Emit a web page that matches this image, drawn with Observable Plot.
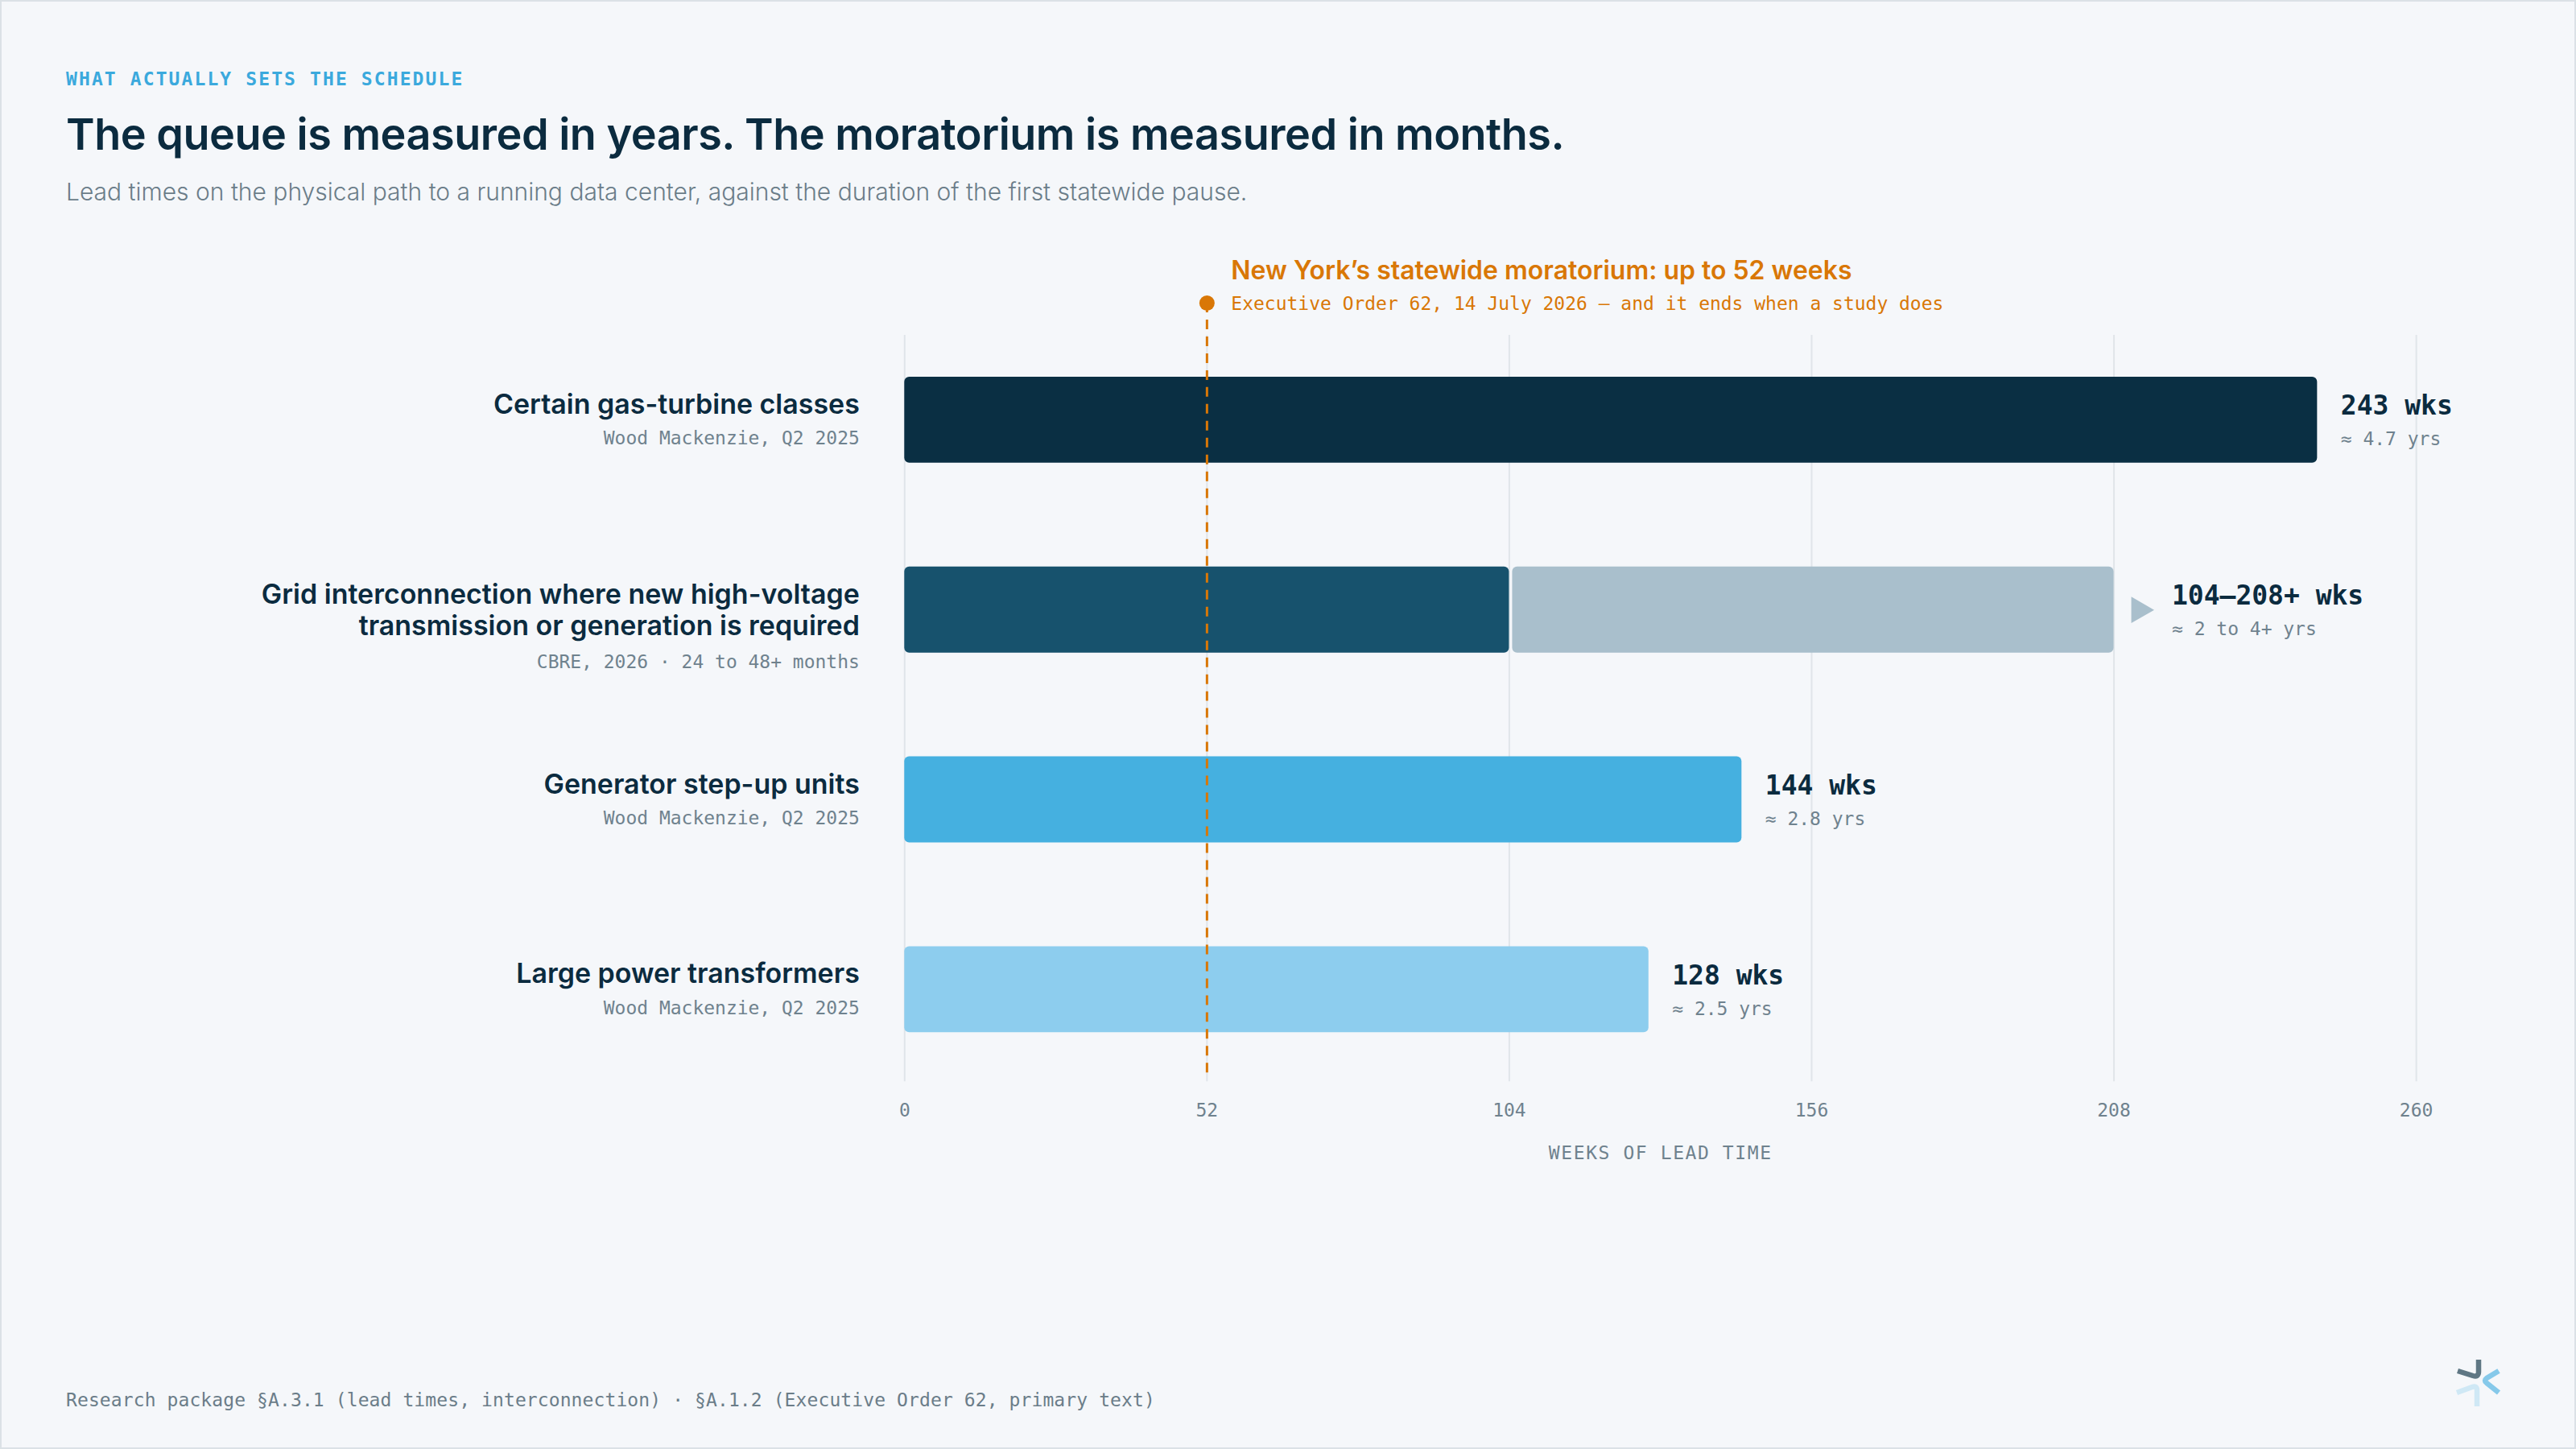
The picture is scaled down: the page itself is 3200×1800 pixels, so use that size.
<!DOCTYPE html>
<html>
<head>
<meta charset="utf-8">
<script src="https://cdn.jsdelivr.net/npm/d3@7"></script>
<script src="https://cdn.jsdelivr.net/npm/@observablehq/plot@0.6"></script>
<style>
  html, body { margin: 0; padding: 0; background: #f5f7fa; }
  #page { position: relative; width: 3200px; height: 1800px; box-sizing: border-box; border: 2px solid #dbe1e6; background: #f5f7fa; overflow: hidden; }
  .abs { position: absolute; margin: 0; white-space: nowrap; }
  .eyebrow { left: 80px; top: 85px; font: 700 23px/23px "DejaVu Sans Mono", monospace; letter-spacing: 2.1px; color: #3ba9dd; }
  h1.abs { left: 80px; top: 138px; font: 600 54px/54px Inter, sans-serif; color: #0b2b3f; letter-spacing: -0.5px; }
  .sub { left: 80px; top: 221px; font: 300 30px/30px Inter, sans-serif; color: #6b7d89; }
  .foot { left: 80px; top: 1726px; font: 400 23px/23px "DejaVu Sans Mono", monospace; letter-spacing: 0.1px; color: #6b7d89; }
  #chart { position: absolute; left: -2px; top: 278px; }
  .logo { position: absolute; left: 3038px; top: 1678px; }
</style>
</head>
<body>
<div id="page">
  <div class="abs eyebrow">WHAT ACTUALLY SETS THE SCHEDULE</div>
  <h1 class="abs">The queue is measured in years. The moratorium is measured in months.</h1>
  <p class="abs sub">Lead times on the physical path to a running data center, against the duration of the first statewide pause.</p>
  <div id="chart"></div>
  <div class="abs foot">Research package §A.3.1 (lead times, interconnection) · §A.1.2 (Executive Order 62, primary text)</div>
  <svg class="logo" width="80" height="80" viewBox="0 0 80 80" fill="none" stroke-width="6.5" stroke-linecap="butt" stroke-linejoin="round">
    <path d="M39,9 L39,24 Q39,31 32,29 L13,23" stroke="#5f7784"/>
    <path d="M64,23 L49,32 Q45,35 49,38 L64,50" stroke="#86c9ea"/>
    <path d="M12,50 L31,43 Q37,41 37,47 L37,67" stroke="#cfe8f5"/>
  </svg>
</div>
<script>
// ---- data ----
const categories = [
  "Certain gas-turbine classes",
  "Grid interconnection where new high-voltage\ntransmission or generation is required",
  "Generator step-up units",
  "Large power transformers"
];
const sources = [
  "Wood Mackenzie, Q2 2025",
  "CBRE, 2026 · 24 to 48+ months",
  "Wood Mackenzie, Q2 2025",
  "Wood Mackenzie, Q2 2025"
];
const leadWeeksLow = [243, 104, 144, 128];
const leadWeeksHigh = [243, 208, 144, 128];
const valueLabels = ["243 wks", "104–208+ wks", "144 wks", "128 wks"];
const yearLabels = ["≈ 4.7 yrs", "≈ 2 to 4+ yrs", "≈ 2.8 yrs", "≈ 2.5 yrs"];
const xTicks = [0, 52, 104, 156, 208, 260];
const moratoriumWeeks = 52;
const moratoriumTitle = "New York’s statewide moratorium: up to 52 weeks";
const moratoriumNote = "Executive Order 62, 14 July 2026 — and it ends when a study does";
const axisLabel = "WEEKS OF LEAD TIME";
const extensionKey = "upper range";

// ---- styling ----
const MONO = "DejaVu Sans Mono, monospace";
const SANS = "Inter, sans-serif";
const DARK = "#0b2b3f";
const GRAY = "#6f828e";
const ORANGE = "#d97706";
const barPalette = ["#0a2f43", "#17526d", "#45b0e0", "#8dcdee", "#a9bfcc"];

const rows = categories.map((c, i) => ({
  category: c,
  source: sources[i],
  low: leadWeeksLow[i],
  high: leadWeeksHigh[i],
  value: valueLabels[i],
  years: yearLabels[i],
  lines: c.split("\n").length,
  ranged: leadWeeksHigh[i] > leadWeeksLow[i]
}));
const single = rows.filter(d => !d.ranged);
const ranged = rows.filter(d => d.ranged);

const chart = Plot.plot({
  width: 3200,
  height: 1202,
  marginLeft: 1124,
  marginRight: 197,
  marginTop: 136,
  marginBottom: 138,
  style: { background: "transparent", fontFamily: MONO, fontSize: "23px", color: GRAY },
  x: { domain: [0, 260] },
  y: { type: "band", domain: categories, axis: null, paddingInner: 0.5466, paddingOuter: 0.2203, insetBottom: 9 },
  color: { type: "ordinal", domain: [...categories, extensionKey], range: barPalette },
  marks: [
    Plot.gridX(xTicks, { stroke: "#e0e5ea", strokeOpacity: 1, strokeWidth: 2 }),
    Plot.axisX(xTicks, { tickSize: 0, tickPadding: 27, fontSize: 23, fontFamily: MONO, fill: GRAY, label: null }),
    Plot.barX(rows, { x: "low", y: "category", fill: "category", rx: 6 }),
    Plot.barX(ranged, { x1: "low", x2: "high", y: "category", fill: () => extensionKey, insetLeft: 4, rx: 6 }),
    Plot.dot(ranged, { x: "high", y: "category", symbol: "triangle", rotate: 90, r: 12.2, fill: "#a9bfcc", dx: 31 }),
    Plot.ruleX([moratoriumWeeks], { stroke: ORANGE, strokeWidth: 3, strokeDasharray: "12,9", insetTop: -40, insetBottom: 5 }),
    Plot.dot([moratoriumWeeks], { x: d => d, frameAnchor: "top", dy: -40, r: 9.5, fill: ORANGE }),
    Plot.text([moratoriumTitle], { x: () => moratoriumWeeks, text: d => d, frameAnchor: "top", lineAnchor: "middle", textAnchor: "start", dx: 30, dy: -79.2, fontSize: 32, fontWeight: 600, fontFamily: SANS, fill: ORANGE }),
    Plot.text([moratoriumNote], { x: () => moratoriumWeeks, text: d => d, frameAnchor: "top", lineAnchor: "middle", textAnchor: "start", dx: 30, dy: -38.4, fontSize: 23, fontFamily: MONO, fill: ORANGE }),
    // category labels
    Plot.text(rows, { y: "category", text: "category", frameAnchor: "left", textAnchor: "end", lineAnchor: "top", lineHeight: 1.147, dx: -56, dy: -35.7, fontSize: 34, fontWeight: 600, fontFamily: SANS, fill: DARK }),
    Plot.text(rows.filter(d => d.lines === 1), { y: "category", text: "source", frameAnchor: "left", lineAnchor: "middle", textAnchor: "end", dx: -56, dy: 23, fontSize: 23, fontFamily: MONO, fill: GRAY }),
    Plot.text(rows.filter(d => d.lines === 2), { y: "category", text: "source", frameAnchor: "left", lineAnchor: "middle", textAnchor: "end", dx: -56, dy: 65, fontSize: 23, fontFamily: MONO, fill: GRAY }),
    // value labels
    Plot.text(single, { x: "high", y: "category", text: "value", textAnchor: "start", dx: 29, dy: -17, fontSize: 33, fontWeight: 700, fontFamily: MONO, fill: DARK }),
    Plot.text(single, { x: "high", y: "category", text: "years", textAnchor: "start", dx: 29, dy: 24, fontSize: 23, fontFamily: MONO, fill: GRAY }),
    Plot.text(ranged, { x: "high", y: "category", text: "value", textAnchor: "start", dx: 72, dy: -17, fontSize: 33, fontWeight: 700, fontFamily: MONO, fill: DARK }),
    Plot.text(ranged, { x: "high", y: "category", text: "years", textAnchor: "start", dx: 72, dy: 24, fontSize: 23, fontFamily: MONO, fill: GRAY }),
    // axis label
    Plot.text([axisLabel], { text: d => d, frameAnchor: "bottom", lineAnchor: "middle", dy: 88.6, fontSize: 23, fontFamily: MONO, fill: GRAY })
  ]
});

d3.select(chart).selectAll("text").filter(function () { return this.textContent === axisLabel; })
  .style("letter-spacing", "1.6px");

document.getElementById("chart").appendChild(chart);
</script>
</body>
</html>
